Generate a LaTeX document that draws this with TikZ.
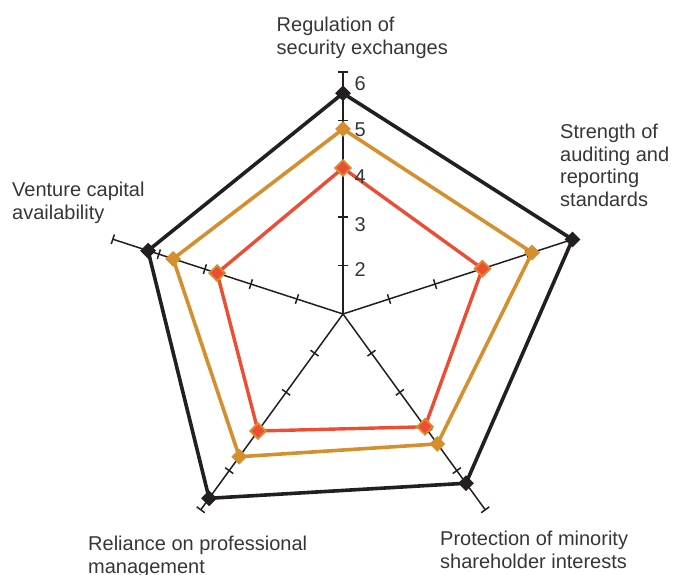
\documentclass[tikz,border=0pt]{standalone}
\usepackage{fontspec}
\setmainfont{Liberation Sans}
\usetikzlibrary{shapes.geometric}
\definecolor{inkblack}{HTML}{231F20}
\definecolor{inkorange}{HTML}{D58F2E}
\definecolor{inkred}{HTML}{EE4D35}
\definecolor{inktext}{HTML}{363636}
\tikzset{
  axisline/.style={draw=inkblack, line width=1.5pt},
  tickline/.style={draw=inkblack, line width=1.5pt},
  polyblack/.style={draw=inkblack, line width=3.6pt, line join=miter},
  polyorange/.style={draw=inkorange, line width=3.6pt, line join=miter},
  polyred/.style={draw=inkred, line width=3.4pt, line join=miter},
  mk/.style={diamond, inner sep=0pt, minimum width=16pt, minimum height=16pt},
  mkblack/.style={mk, fill=inkblack},
  mkorange/.style={mk, fill=inkorange},
  mkred/.style={mk, fill=inkred, draw=inkorange, line width=1.8pt, minimum width=16.5pt, minimum height=16.5pt},
  lab/.style={anchor=base west, inner sep=0pt, align=left, text=inktext,
    font=\fontsize{20}{22.7}\selectfont},
  num/.style={anchor=west, inner sep=0pt, text=inktext, font=\fontsize{20}{22.7}\selectfont}
}
\begin{document}
\begin{tikzpicture}[x=1pt, y=1pt]
\useasboundingbox (-343,-260) rectangle (348,314);
\coordinate (O) at (0,0);
% axes
\foreach \a/\n in {90/1, 18/2, -54/3, -126/4, 162/5} {
  \coordinate (e\n) at (\a:242);
  \draw[axisline] (O) -- (e\n);
  \foreach \r in {48.4, 96.8, 145.2, 193.6, 242} {
    \draw[tickline, rotate=\a] (\r,-5) -- (\r,5);
  }
}
% data points
\coordinate (b1) at (90:220.7);
\coordinate (b2) at (18:241.3);
\coordinate (b3) at (-54:209.2);
\coordinate (b4) at (-126:227.8);
\coordinate (b5) at (162:205);
\coordinate (o1) at (90:185);
\coordinate (o2) at (18:198.8);
\coordinate (o3) at (-54:160.6);
\coordinate (o4) at (-126:176.4);
\coordinate (o5) at (162:178.6);
\coordinate (r1) at (90:146);
\coordinate (r2) at (18:146.6);
\coordinate (r3) at (-54:139.4);
\coordinate (r4) at (-126:144.6);
\coordinate (r5) at (162:132.3);
% polygons
\draw[polyblack] (b1) -- (b2) -- (b3) -- (b4) -- (b5) -- cycle;
\draw[polyorange] (o1) -- (o2) -- (o3) -- (o4) -- (o5) -- cycle;
\draw[polyred] (r1) -- (r2) -- (r3) -- (r4) -- (r5) -- cycle;
% markers
\foreach \n in {1,...,5} {
  \node[mkblack] (mb\n) at (b\n) {};
  \node[mkorange] (mo\n) at (o\n) {};
  \node[mkred] (mr\n) at (r\n) {};
}
% scale numbers
\node[num] (n2) at (11.5,44.3) {2};
\node[num] (n3) at (11.5,89.5) {3};
\node[num] (n4) at (11.5,137) {4};
\node[num] (n5) at (11.5,184) {5};
\node[num] (n6) at (11.5,230) {6};
% axis labels (base anchor = baseline of the last line)
\node[lab] (l1) at (-66.5,259.7) {Regulation of\\security exchanges};
\node[lab] (l2) at (217,107.5) {Strength of\\auditing and\\reporting\\standards};
\node[lab] (l5) at (-331,94.7) {Venture capital\\availability};
\node[lab] (l4) at (-255,-259.2) {Reliance on professional\\management};
\node[lab] (l3) at (97,-254.3) {Protection of minority\\shareholder interests};
\end{tikzpicture}
\end{document}
